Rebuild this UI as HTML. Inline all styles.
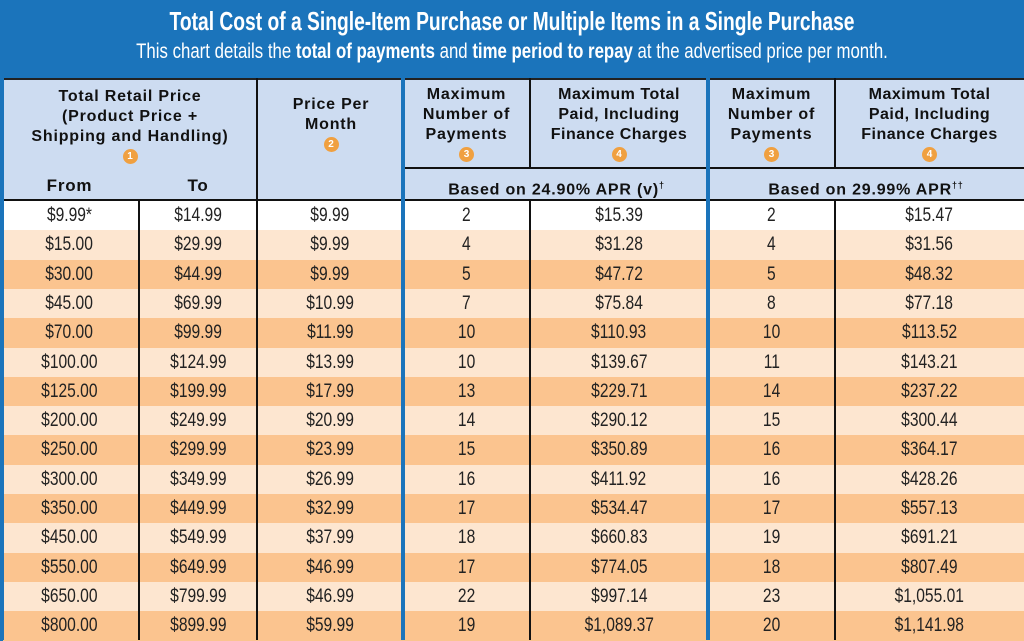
<!DOCTYPE html>
<html><head><meta charset="utf-8"><style>
*{margin:0;padding:0;box-sizing:border-box}
body{width:1024px;height:640px;overflow:hidden;background:#1b74bb;font-family:"Liberation Sans",sans-serif;position:relative}
.t{position:absolute;left:0;width:1024px;text-align:center;color:#fff;white-space:nowrap;transform-origin:512px 0}
.a{position:absolute}
.h{background:#cddcf1}
.hd{position:absolute;text-align:center;font-weight:bold;font-size:16px;line-height:20px;color:#111;letter-spacing:0.8px}
.n{display:inline-block;width:15px;height:15px;border-radius:50%;background:#f0a040;color:#fff;font-size:10px;line-height:15px;text-align:center;vertical-align:middle;letter-spacing:0}
.vl{position:absolute;width:2px;background:#111}
.bl{position:absolute;width:4px;background:#1b74bb}
.row{position:absolute;left:3px;width:1021px;height:29.4px}
.c{position:absolute;top:0;height:29.4px;line-height:29.4px;text-align:center;font-size:19px;color:#222}
.c span{display:inline-block;transform:scaleX(.82)}
</style></head><body>
<div class="t" style="top:6px;font-size:26px;font-weight:bold;transform:scaleX(.74)">Total Cost of a Single-Item Purchase or Multiple Items in a Single Purchase</div>
<div class="t" style="top:40px;font-size:21px;transform:scaleX(.8)">This chart details the <b>total of payments</b> and <b>time period to repay</b> at the advertised price per month.</div>
<div class="a h" style="left:3px;top:78px;width:1021px;height:122px;border-top:2px solid #222"></div>
<div class="a" style="left:405px;top:167px;width:619px;height:2px;background:#111"></div>
<div class="a" style="left:3px;top:199px;width:1021px;height:2px;background:#111"></div>
<div class="hd" style="left:3px;width:254px;top:87px">Total Retail Price<br>(Product Price +<br>Shipping and Handling)<br><span class="n">1</span></div>
<div class="hd" style="left:0;width:139px;top:176px;font-size:17px">From</div>
<div class="hd" style="left:139px;width:118px;top:176px;font-size:17px">To</div>
<div class="hd" style="left:257px;width:148px;top:95px">Price Per<br>Month<br><span class="n">2</span></div>
<div class="hd" style="left:403px;width:127px;top:85px">Maximum<br>Number of<br>Payments<br><span class="n">3</span></div>
<div class="hd" style="left:530px;width:178px;top:85px;letter-spacing:0.5px">Maximum Total<br>Paid, Including<br>Finance Charges<br><span class="n">4</span></div>
<div class="hd" style="left:708px;width:127px;top:85px">Maximum<br>Number of<br>Payments<br><span class="n">3</span></div>
<div class="hd" style="left:835px;width:189px;top:85px;letter-spacing:0.5px">Maximum Total<br>Paid, Including<br>Finance Charges<br><span class="n">4</span></div>
<div class="hd" style="left:405px;width:303px;top:175px">Based on 24.90% APR (v)<sup style="font-size:9px">†</sup></div>
<div class="hd" style="left:708px;width:316px;top:175px">Based on 29.99% APR<sup style="font-size:9px">††</sup></div>
<div id="rows"></div>
<div class="vl" style="left:138px;top:200px;height:440px"></div>
<div class="vl" style="left:256px;top:78px;height:562px"></div>
<div class="vl" style="left:529px;top:78px;height:90px"></div>
<div class="vl" style="left:529px;top:200px;height:440px"></div>
<div class="vl" style="left:834px;top:78px;height:90px"></div>
<div class="vl" style="left:834px;top:200px;height:440px"></div>
<div class="bl" style="left:0;top:78px;height:562px"></div>
<div class="bl" style="left:401px;top:78px;height:562px"></div>
<div class="bl" style="left:706px;top:78px;height:562px"></div>
<script>
var d=[["$9.99*","$14.99","$9.99","2","$15.39","2","$15.47"],
["$15.00","$29.99","$9.99","4","$31.28","4","$31.56"],
["$30.00","$44.99","$9.99","5","$47.72","5","$48.32"],
["$45.00","$69.99","$10.99","7","$75.84","8","$77.18"],
["$70.00","$99.99","$11.99","10","$110.93","10","$113.52"],
["$100.00","$124.99","$13.99","10","$139.67","11","$143.21"],
["$125.00","$199.99","$17.99","13","$229.71","14","$237.22"],
["$200.00","$249.99","$20.99","14","$290.12","15","$300.44"],
["$250.00","$299.99","$23.99","15","$350.89","16","$364.17"],
["$300.00","$349.99","$26.99","16","$411.92","16","$428.26"],
["$350.00","$449.99","$32.99","17","$534.47","17","$557.13"],
["$450.00","$549.99","$37.99","18","$660.83","19","$691.21"],
["$550.00","$649.99","$46.99","17","$774.05","18","$807.49"],
["$650.00","$799.99","$46.99","22","$997.14","23","$1,055.01"],
["$800.00","$899.99","$59.99","19","$1,089.37","20","$1,141.98"]];
var cols=[[0,139],[139,257],[257,403],[403,530],[530,708],[708,835],[835,1024]];
var h="";
d.forEach(function(r,i){
 var bg=i==0?"#fff":(i%2==1?"#fde6d0":"#fbc48f");
 h+='<div class="row" style="top:'+(201+i*29.3)+'px;background:'+bg+'">';
 r.forEach(function(v,j){h+='<div class="c" style="left:'+(cols[j][0]-3)+'px;width:'+(cols[j][1]-cols[j][0])+'px"><span>'+v+'</span></div>';});
 h+='</div>';});
document.getElementById("rows").innerHTML=h;
</script>
</body></html>
